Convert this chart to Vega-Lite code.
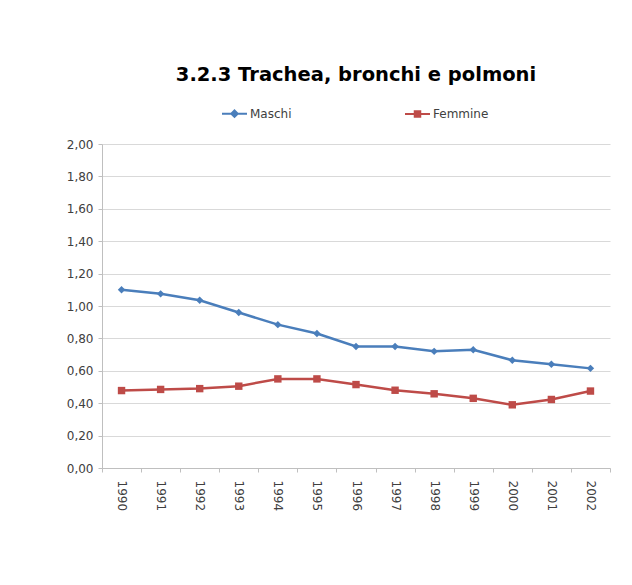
{
  "$schema": "https://vega.github.io/schema/vega-lite/v6.json",
  "autosize": {"type": "none"},
  "width": 508,
  "height": 324,
  "padding": {"left": 102, "top": 144, "right": 22, "bottom": 117},
  "background": "white",
  "title": {
    "text": "3.2.3 Trachea, bronchi e polmoni",
    "font": "DejaVu Sans",
    "fontSize": 19.5,
    "fontWeight": "bold",
    "color": "#000000",
    "anchor": "middle",
    "frame": "group",
    "offset": 15
  },
  "data": {
    "values": [
      {"anno": "1990", "serie": "Maschi", "valore": 1.10},
      {"anno": "1991", "serie": "Maschi", "valore": 1.075},
      {"anno": "1992", "serie": "Maschi", "valore": 1.035},
      {"anno": "1993", "serie": "Maschi", "valore": 0.96},
      {"anno": "1994", "serie": "Maschi", "valore": 0.885},
      {"anno": "1995", "serie": "Maschi", "valore": 0.83},
      {"anno": "1996", "serie": "Maschi", "valore": 0.75},
      {"anno": "1997", "serie": "Maschi", "valore": 0.75},
      {"anno": "1998", "serie": "Maschi", "valore": 0.72},
      {"anno": "1999", "serie": "Maschi", "valore": 0.73},
      {"anno": "2000", "serie": "Maschi", "valore": 0.665},
      {"anno": "2001", "serie": "Maschi", "valore": 0.64},
      {"anno": "2002", "serie": "Maschi", "valore": 0.615},
      {"anno": "1990", "serie": "Femmine", "valore": 0.478},
      {"anno": "1991", "serie": "Femmine", "valore": 0.485},
      {"anno": "1992", "serie": "Femmine", "valore": 0.49},
      {"anno": "1993", "serie": "Femmine", "valore": 0.505},
      {"anno": "1994", "serie": "Femmine", "valore": 0.55},
      {"anno": "1995", "serie": "Femmine", "valore": 0.55},
      {"anno": "1996", "serie": "Femmine", "valore": 0.515},
      {"anno": "1997", "serie": "Femmine", "valore": 0.48},
      {"anno": "1998", "serie": "Femmine", "valore": 0.458},
      {"anno": "1999", "serie": "Femmine", "valore": 0.43},
      {"anno": "2000", "serie": "Femmine", "valore": 0.39},
      {"anno": "2001", "serie": "Femmine", "valore": 0.423},
      {"anno": "2002", "serie": "Femmine", "valore": 0.475}
    ]
  },
  "encoding": {
    "x": {
      "field": "anno",
      "type": "ordinal",
      "bandPosition": 0.5,
      "scale": {"type": "band", "paddingInner": 0, "paddingOuter": 0},
      "axis": {
        "title": null,
        "labelAngle": 90,
        "labelFont": "DejaVu Sans",
        "labelFontSize": 12,
        "labelColor": "#404040",
        "labelPadding": 8,
        "tickBand": "extent",
        "ticks": true,
        "tickSize": 4,
        "tickColor": "#bfbfbf",
        "domainColor": "#bfbfbf",
        "grid": false
      }
    },
    "y": {
      "field": "valore",
      "type": "quantitative",
      "scale": {"domain": [0, 2], "nice": false, "zero": true},
      "axis": {
        "title": null,
        "values": [0, 0.2, 0.4, 0.6, 0.8, 1.0, 1.2, 1.4, 1.6, 1.8, 2.0],
        "labelExpr": "replace(format(datum.value, '.2f'), '.', ',')",
        "labelFont": "DejaVu Sans",
        "labelFontSize": 12,
        "labelColor": "#404040",
        "labelPadding": 5,
        "tickSize": 4,
        "tickColor": "#bfbfbf",
        "domainColor": "#bfbfbf",
        "gridColor": "#d9d9d9",
        "gridWidth": 1
      }
    },
    "color": {
      "field": "serie",
      "type": "nominal",
      "scale": {"domain": ["Maschi", "Femmine"], "range": ["#4a7ebb", "#be4b48"]},
      "legend": {
        "title": null,
        "orient": "none",
        "direction": "horizontal",
        "legendX": 119,
        "legendY": -44,
        "padding": 0,
        "columnPadding": 109,
        "symbolSize": 625,
        "symbolStrokeWidth": 2,
        "labelOffset": 2,
        "labelFont": "DejaVu Sans",
        "labelFontSize": 12,
        "labelColor": "#404040",
        "encode": {
          "symbols": {
            "update": {
              "shape": {"signal": "datum.value === 'Maschi' ? 'M-1,0H1M0,-0.26L0.26,0L0,0.26L-0.26,0Z' : 'M-1,0H1M-0.22,-0.22H0.22V0.22H-0.22Z'"},
              "fill": {"signal": "datum.value === 'Maschi' ? '#4a7ebb' : '#be4b48'"},
              "stroke": {"signal": "datum.value === 'Maschi' ? '#4a7ebb' : '#be4b48'"},
              "strokeWidth": {"value": 2},
              "opacity": {"value": 1}
            }
          }
        }
      }
    }
  },
  "layer": [
    {
      "mark": {"type": "line", "strokeWidth": 2.5}
    },
    {
      "mark": {"type": "point", "filled": true, "opacity": 1, "size": 55},
      "encoding": {
        "shape": {
          "condition": {"test": "datum.serie === 'Maschi'", "value": "diamond"},
          "value": "square"
        }
      }
    }
  ],
  "config": {
    "view": {"stroke": null},
    "font": "DejaVu Sans"
  }
}
